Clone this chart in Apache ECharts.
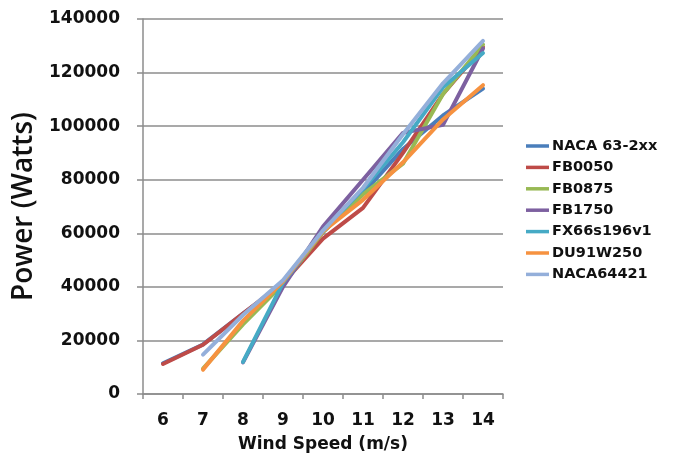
<!DOCTYPE html>
<html>
<head>
<meta charset="utf-8">
<script src="https://cdn.jsdelivr.net/npm/echarts@6/dist/echarts.min.js"></script>
<style>
html,body{margin:0;padding:0;background:#fff;}
#chart{width:673px;height:462px;}
</style>
</head>
<body>
<div id="chart"></div>
<script>
const windSpeeds = ['6','7','8','9','10','11','12','13','14'];
const yTicks = [0, 20000, 40000, 60000, 80000, 100000, 120000, 140000];
const seriesNames = ['NACA 63-2xx','FB0050','FB0875','FB1750','FX66s196v1','DU91W250','NACA64421'];
const naca632xx = [11500, 18500, 30000, 41000, 60500, 75000, 91500, 104000, 114000];
const fb0050    = [11200, 18400, 30000, 41500, 58000, 69500, 90000, 112000, 129500];
const fb0875    = [null, 9500, 26000, 41000, 60500, 74500, 86000, 112000, 130500];
const fb1750    = [null, null, 11800, 40000, 62500, 80000, 97500, 100500, 129000];
const fx66s196v1= [null, null, 12000, 41500, 61000, 76500, 94000, 114500, 127300];
const du91w250  = [null, 9100, 27300, 42000, 60800, 72500, 86500, 102500, 115300];
const naca64421 = [null, 14700, 29500, 42500, 61000, 77000, 97000, 116000, 131800];
const allValues = [naca632xx, fb0050, fb0875, fb1750, fx66s196v1, du91w250, naca64421];
const colors = ['#4A7EBB','#BE4B48','#98B954','#7D60A0','#46AAC5','#F69240','#94AFDA'];

const chart = echarts.init(document.getElementById('chart'), null, {renderer:'canvas'});
const gray = '#8c8c8c';
chart.setOption({
  animation: false,
  backgroundColor: '#ffffff',
  color: colors,
  grid: {left: 143, right: 170, top: 19, bottom: 68},
  legend: {
    orient: 'vertical',
    left: 521,
    top: 133,
    icon: 'rect',
    itemWidth: 23,
    itemHeight: 3.5,
    itemGap: 5.4,
    textStyle: {fontFamily: 'DejaVu Sans', fontWeight: 'bold', fontSize: 14.5, color: '#111', lineHeight: 16, padding: [0,0,0,-2]},
    data: seriesNames
  },
  xAxis: {
    type: 'category',
    data: windSpeeds,
    boundaryGap: true,
    name: 'Wind Speed (m/s)',
    nameLocation: 'middle',
    nameGap: 42,
    nameTextStyle: {fontFamily: 'DejaVu Sans', fontWeight: 'bold', fontSize: 17, color: '#111'},
    axisLine: {lineStyle: {color: gray, width: 1.5}},
    axisTick: {show: true, length: 5, lineStyle: {color: gray, width: 1.5}},
    axisLabel: {margin: 18, fontFamily: 'DejaVu Sans', fontWeight: 'bold', fontSize: 17, color: '#111'},
    splitLine: {show: false}
  },
  yAxis: {
    type: 'value',
    min: yTicks[0],
    max: yTicks[yTicks.length - 1],
    interval: yTicks[1] - yTicks[0],
    name: 'Power (Watts)',
    nameLocation: 'middle',
    nameGap: 90,
    nameTextStyle: {fontFamily: 'Open Sans', fontWeight: 600, fontSize: 28, color: '#111'},
    axisLine: {show: true, lineStyle: {color: gray, width: 1.5}},
    axisTick: {show: true, length: 6, lineStyle: {color: gray, width: 1.5}},
    axisLabel: {margin: 23, fontFamily: 'DejaVu Sans', fontWeight: 'bold', fontSize: 17, color: '#111',
      formatter: v => String(v)},
    splitLine: {show: true, lineStyle: {color: gray, width: 1.5}}
  },
  series: seriesNames.map((n, i) => ({
    name: n,
    type: 'line',
    data: allValues[i],
    symbol: 'none',
    connectNulls: false,
    lineStyle: {width: 4, cap: 'round', join: 'round', color: colors[i]},
    itemStyle: {color: colors[i]},
    emphasis: {disabled: true}
  }))
});
</script>
</body>
</html>
